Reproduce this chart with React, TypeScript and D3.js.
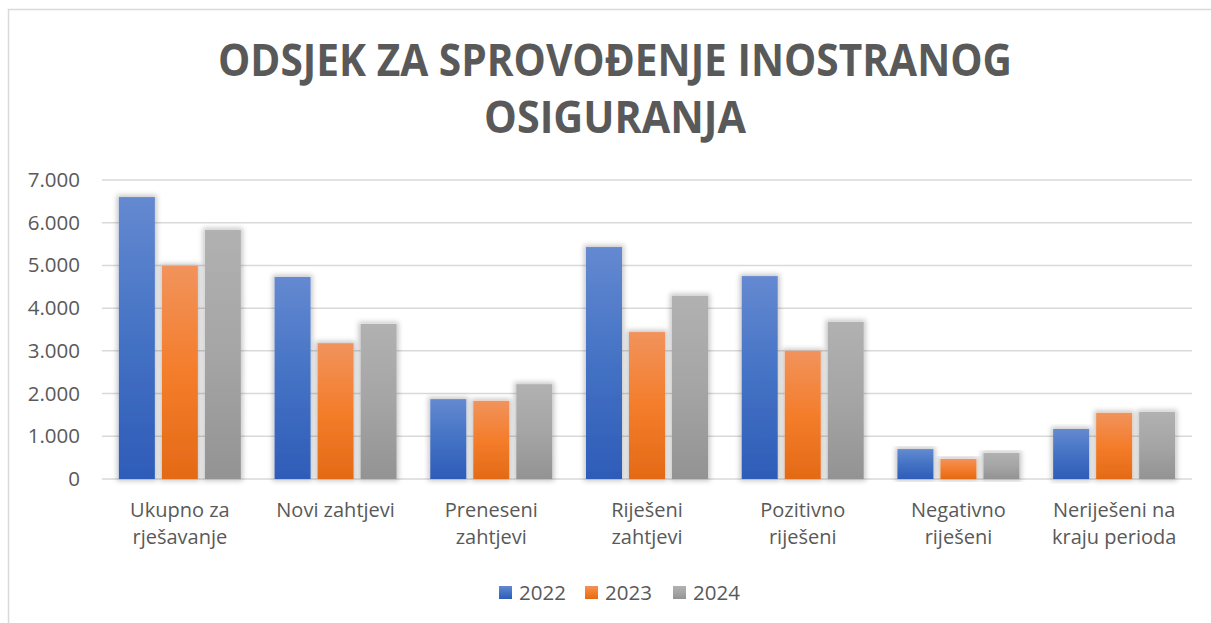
import React from "react";
import * as d3 from "d3";

const categories: string[][] = [
  ["Ukupno za", "rješavanje"],
  ["Novi zahtjevi"],
  ["Preneseni", "zahtjevi"],
  ["Riješeni", "zahtjevi"],
  ["Pozitivno", "riješeni"],
  ["Negativno", "riješeni"],
  ["Neriješeni na", "kraju perioda"],
];
const series = ["2022", "2023", "2024"];
const values2022 = [6600, 4730, 1870, 5430, 4750, 700, 1170];
const values2023 = [4990, 3180, 1830, 3440, 3000, 470, 1550];
const values2024 = [5830, 3630, 2220, 4290, 3680, 610, 1570];
const yTicks = [0, 1000, 2000, 3000, 4000, 5000, 6000, 7000];
const titleLines = ["ODSJEK ZA SPROVOĐENJE INOSTRANOG", "OSIGURANJA"];

const W = 1211;
const H = 623;
const margin = { left: 102, right: 1192, top: 180, bottom: 479 };
const textColor = "#595959";
const gridColor = "#d9d9d9";
const font = "'Open Sans', sans-serif";

const gradients = [
  ["#6489d1", "#4472c4", "#2e5cb8"],
  ["#f1935c", "#f47d2b", "#e46a16"],
  ["#b1b1b1", "#a5a5a5", "#939393"],
];

export default function App() {
  const data = [values2022, values2023, values2024];
  const x = d3
    .scaleBand<number>()
    .domain(d3.range(categories.length))
    .range([margin.left, margin.right])
    .paddingInner(0)
    .paddingOuter(0);
  const inner = d3
    .scaleBand<number>()
    .domain(d3.range(series.length))
    .range([0, 122])
    .paddingInner(7 / 43);
  const groupOffset = (x.bandwidth() - 122) / 2;
  const y = d3.scaleLinear().domain([0, 7000]).range([margin.bottom, margin.top]);
  const fmt = (v: number) => d3.format(",")(v).replace(/,/g, ".");

  const legendX = [499, 585, 673];

  return (
    <svg width={W} height={H} style={{ display: "block", position: "absolute", left: 0, top: 0 }}>
      <defs>
        {gradients.map((g, i) => (
          <linearGradient key={i} id={`grad${i}`} x1="0" y1="0" x2="0" y2="1">
            <stop offset="0" stopColor={g[0]} />
            <stop offset="0.5" stopColor={g[1]} />
            <stop offset="1" stopColor={g[2]} />
          </linearGradient>
        ))}
        <filter id="shadow" x="-30%" y="-10%" width="160%" height="120%">
          <feMorphology in="SourceAlpha" operator="dilate" radius="2" result="d" />
          <feGaussianBlur in="d" stdDeviation="2.5" result="b" />
          <feFlood floodColor="#000" floodOpacity="0.22" />
          <feComposite in2="b" operator="in" result="s" />
          <feMerge>
            <feMergeNode in="s" />
            <feMergeNode in="SourceGraphic" />
          </feMerge>
        </filter>
      </defs>
      <rect x={0} y={0} width={W} height={H} fill="#fff" />
      <rect x={8.5} y={9.5} width={W + 20} height={H + 20} fill="none" stroke={gridColor} strokeWidth={1.5} />

      {titleLines.map((t, i) => (
        <text
          key={i}
          x={615}
          y={76 + i * 57}
          textAnchor="middle"
          fontFamily={font}
          fontWeight={700}
          fontSize={45}
          fill={textColor}
          textLength={i === 0 ? 794 : 262}
          lengthAdjust="spacingAndGlyphs"
        >
          {t}
        </text>
      ))}

      {yTicks.map((t) => (
        <g key={t}>
          <line x1={margin.left} x2={margin.right} y1={y(t)} y2={y(t)} stroke={gridColor} strokeWidth={1.5} />
          <text
            x={80}
            y={y(t) + 7}
            textAnchor="end"
            fontFamily={font}
            fontSize={20.5}
            fill={textColor}
          >
            {fmt(t)}
          </text>
        </g>
      ))}

      {categories.map((c, ci) => (
        <g key={ci}>
          {data.map((vals, si) => {
            const bx = (x(ci) as number) + groupOffset + (inner(si) as number);
            return (
              <rect
                key={si}
                x={bx}
                y={y(vals[ci])}
                width={inner.bandwidth()}
                height={y(0) - y(vals[ci])}
                fill={`url(#grad${si})`}
                filter="url(#shadow)"
              />
            );
          })}
          {c.map((line, li) => (
            <text
              key={li}
              x={(x(ci) as number) + x.bandwidth() / 2}
              y={517 + li * 27}
              textAnchor="middle"
              fontFamily={font}
              fontSize={20}
              fill={textColor}
            >
              {line}
            </text>
          ))}
        </g>
      ))}

      {series.map((s, si) => (
        <g key={s}>
          <rect x={legendX[si]} y={586} width={13} height={13} fill={`url(#grad${si})`} />
          <text x={legendX[si] + 20} y={600} fontFamily={font} fontSize={20.5} fill={textColor}>
            {s}
          </text>
        </g>
      ))}
    </svg>
  );
}
